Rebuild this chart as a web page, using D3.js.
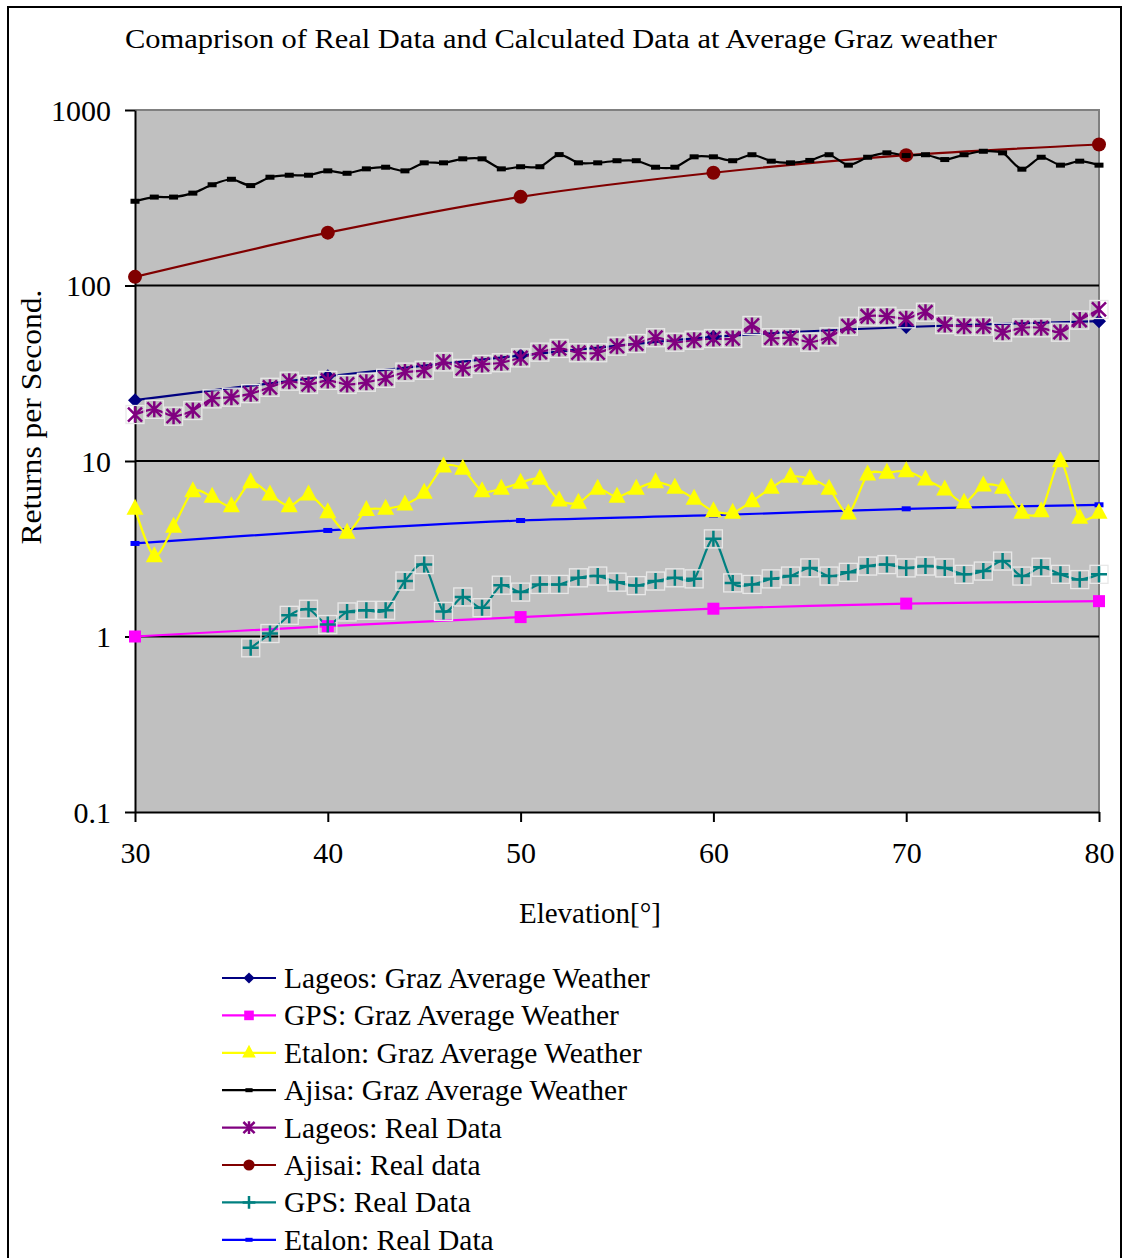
<!DOCTYPE html>
<html>
<head>
<meta charset="utf-8">
<script src="https://cdn.jsdelivr.net/npm/d3@7"></script>
<style>
  html, body { margin: 0; padding: 0; background: #fff; }
  svg { display: block; }
  text { font-family: "Liberation Serif", "Times New Roman", serif; fill: #000; }
</style>
</head>
<body>
<svg id="chart" width="1125" height="1258"></svg>
<script>
// Elevation grid (degrees)
const elevAll = d3.range(30, 81);            // 30..80 every degree
const elevTen = [30, 40, 50, 60, 70, 80];    // model points every 10 degrees
const elevGps = d3.range(36, 81);            // GPS real data starts at 36

// Returns per second
const lageosAvg = [22.2, 30.4, 39.9, 51.0, 58.0, 62.6];
const gpsAvg    = [1.0, 1.145, 1.29, 1.44, 1.54, 1.59];
const etalonAvg = [5.34, 2.87, 4.22, 6.73, 6.25, 5.53, 7.57, 6.44, 5.53, 6.44,
                   5.11, 3.90, 5.25, 5.34, 5.65, 6.59, 9.30, 9.03, 6.73, 6.95,
                   7.51, 7.92, 5.96, 5.78, 6.95, 6.25, 6.95, 7.57, 7.03, 6.09,
                   5.18, 5.07, 5.90, 7.03, 8.13, 7.92, 6.95, 5.02, 8.38, 8.57,
                   8.75, 7.85, 6.88, 5.78, 7.25, 7.03, 5.07, 5.18, 9.97, 4.75, 5.07];
const ajisaAvg  = [302, 319, 319, 336, 375, 403, 371, 414, 425, 425,
                   450, 436, 462, 472, 450, 500, 500, 527, 527, 462,
                   475, 475, 557, 500, 500, 514, 514, 472, 472, 541,
                   541, 514, 556, 511, 500, 516, 556, 485, 538, 570,
                   550, 556, 522, 556, 582, 570, 460, 538, 485, 511, 485];
const lageosReal = [18.4, 19.7, 18.0, 19.4, 22.6, 23.1, 24.2, 26.3, 28.5, 27.3,
                    28.8, 27.3, 28.1, 29.6, 32.1, 32.9, 36.7, 33.7, 35.5, 36.3,
                    38.7, 41.7, 43.8, 41.4, 41.4, 45.1, 46.7, 50.4, 47.5, 48.8,
                    49.9, 49.9, 59.2, 50.4, 50.4, 47.5, 51.0, 58.6, 66.8, 66.8,
                    64.6, 70.4, 59.9, 58.6, 58.6, 54.2, 57.4, 57.4, 54.2, 63.5, 73.0];
const ajisaiReal = [112, 200, 320, 439, 553, 636];
const gpsReal    = [0.862, 1.04, 1.32, 1.43, 1.17, 1.38, 1.41, 1.41, 2.07, 2.57,
                    1.39, 1.68, 1.46, 1.96, 1.79, 1.98, 1.98, 2.16, 2.21, 2.04,
                    1.95, 2.07, 2.16, 2.13, 3.60, 2.02, 1.98, 2.13, 2.21, 2.46,
                    2.21, 2.32, 2.52, 2.57, 2.46, 2.52, 2.46, 2.26, 2.36, 2.69,
                    2.21, 2.48, 2.26, 2.11, 2.26];
const etalonReal = [3.39, 4.02, 4.58, 4.91, 5.34, 5.63];

const xTicks = [30, 40, 50, 60, 70, 80];
const yTicks = [0.1, 1, 10, 100, 1000];
const yTickLabels = ["0.1", "1", "10", "100", "1000"];

const titleText = "Comaprison of Real Data and Calculated Data at Average Graz weather";
const xTitle = "Elevation[°]";
const yTitle = "Returns per Second.";

// Series definitions (legend order)
const series = [
  { name: "Lageos: Graz Average Weather", x: elevTen, y: lageosAvg,  color: "#000080", marker: "diamond" },
  { name: "GPS: Graz Average Weather",    x: elevTen, y: gpsAvg,     color: "#FF00FF", marker: "square" },
  { name: "Etalon: Graz Average Weather", x: elevAll, y: etalonAvg,  color: "#FFFF00", marker: "triangle" },
  { name: "Ajisa: Graz Average Weather",  x: elevAll, y: ajisaAvg,   color: "#000000", marker: "dash" },
  { name: "Lageos: Real Data",            x: elevAll, y: lageosReal, color: "#800080", marker: "star" },
  { name: "Ajisai: Real data",            x: elevTen, y: ajisaiReal, color: "#800000", marker: "circle" },
  { name: "GPS: Real Data",               x: elevGps, y: gpsReal,    color: "#008080", marker: "plus" },
  { name: "Etalon: Real Data",            x: elevTen, y: etalonReal, color: "#0000FF", marker: "dash" }
];
// drawing order inside the plot
const drawOrder = [7, 1, 6, 0, 4, 5, 3, 2];

const svg = d3.select("#chart");

// outer chart frame
svg.append("rect")
  .attr("x", 8).attr("y", 7).attr("width", 1113).attr("height", 1270)
  .attr("fill", "none").attr("stroke", "#000").attr("stroke-width", 2);

const plot = { left: 135, right: 1099, top: 110, bottom: 812 };
const x = d3.scaleLinear().domain([30, 80]).range([plot.left, plot.right]);
const y = d3.scaleLog().domain([0.1, 1000]).range([plot.bottom, plot.top]);

// plot background
svg.append("rect")
  .attr("x", plot.left).attr("y", plot.top)
  .attr("width", plot.right - plot.left).attr("height", plot.bottom - plot.top)
  .attr("fill", "#C0C0C0");

// top and right border of plot area
svg.append("path")
  .attr("d", `M${plot.left},${plot.top}H${plot.right}V${plot.bottom}`)
  .attr("fill", "none").attr("stroke", "#808080").attr("stroke-width", 2);

// major gridlines
svg.append("g").selectAll("line")
  .data([1, 10, 100])
  .join("line")
  .attr("x1", plot.left).attr("x2", plot.right)
  .attr("y1", d => y(d)).attr("y2", d => y(d))
  .attr("stroke", "#000").attr("stroke-width", 2);

// axes
const yAxis = d3.axisLeft(y).tickValues(yTicks)
  .tickFormat((d, i) => yTickLabels[i]).tickSize(10).tickSizeOuter(0);
const gy = svg.append("g").attr("transform", `translate(${plot.left},0)`).call(yAxis);
gy.select(".domain").attr("stroke", "#000").attr("stroke-width", 2);
gy.selectAll(".tick line").attr("stroke", "#000").attr("stroke-width", 2);
gy.selectAll(".tick text")
  .attr("x", -24).attr("dy", "0.34em")
  .style("font-family", "'Liberation Serif', 'Times New Roman', serif")
  .style("font-size", "30px").attr("fill", "#000");

const xAxis = d3.axisBottom(x).tickValues(xTicks).tickFormat(d3.format("d"))
  .tickSize(10).tickSizeOuter(0);
const gx = svg.append("g").attr("transform", `translate(0,${plot.bottom})`).call(xAxis);
gx.select(".domain").attr("stroke", "#000").attr("stroke-width", 2);
gx.selectAll(".tick line").attr("stroke", "#000").attr("stroke-width", 2);
gx.selectAll(".tick text")
  .attr("y", 30)
  .style("font-family", "'Liberation Serif', 'Times New Roman', serif")
  .style("font-size", "30px").attr("fill", "#000");

// titles
svg.append("text")
  .attr("x", 561).attr("y", 48).attr("text-anchor", "middle")
  .attr("textLength", 872).attr("lengthAdjust", "spacingAndGlyphs")
  .style("font-size", "28px").text(titleText);

svg.append("text")
  .attr("x", 590).attr("y", 923).attr("text-anchor", "middle")
  .style("font-size", "29px").text(xTitle);

svg.append("text")
  .attr("transform", "translate(41,417) rotate(-90)")
  .attr("text-anchor", "middle")
  .attr("textLength", 255).attr("lengthAdjust", "spacingAndGlyphs")
  .style("font-size", "30px").text(yTitle);

// marker drawing
function drawMarker(g, type, color, cx, cy, scale) {
  const s = scale || 1;
  const m = g.append("g").attr("transform", `translate(${cx},${cy})`);
  switch (type) {
    case "diamond":
      m.append("path").attr("d", `M0,${-7*s}L${7*s},0L0,${7*s}L${-7*s},0Z`).attr("fill", color);
      break;
    case "square":
      m.append("rect").attr("x", -6*s).attr("y", -6*s).attr("width", 12*s).attr("height", 12*s).attr("fill", color);
      break;
    case "triangle":
      m.append("path").attr("d", `M0,${-10*s}L${8.5*s},${6*s}L${-8.5*s},${6*s}Z`).attr("fill", color);
      break;
    case "dash":
      m.append("rect").attr("x", -4.5*s).attr("y", -2.5*s).attr("width", 9*s).attr("height", 5*s).attr("fill", color);
      break;
    case "circle":
      m.append("circle").attr("r", 7*s).attr("fill", color);
      break;
    case "star":
      if (s === 1) {
        m.append("rect").attr("x", -9).attr("y", -9).attr("width", 18).attr("height", 18)
          .attr("fill", "none").attr("stroke", "#E8E8E8").attr("stroke-width", 1.3);
      }
      m.append("path")
        .attr("d", `M0,${-8*s}V${8*s}M${-7*s},${-7*s}L${7*s},${7*s}M${7*s},${-7*s}L${-7*s},${7*s}`)
        .attr("stroke", color).attr("stroke-width", 2.5).attr("fill", "none");
      break;
    case "plus":
      if (s === 1) {
        m.append("rect").attr("x", -9).attr("y", -9).attr("width", 18).attr("height", 18)
          .attr("fill", "none").attr("stroke", "#E8E8E8").attr("stroke-width", 1.3);
      }
      m.append("path")
        .attr("d", `M0,${-8*s}V${8*s}M${-8*s},0H${8*s}`)
        .attr("stroke", color).attr("stroke-width", 2.5).attr("fill", "none");
      break;
  }
}

const line = d3.line().curve(d3.curveCardinal.tension(0.2));

const linesG = svg.append("g");
const markersG = svg.append("g");
drawOrder.forEach(i => {
  const s = series[i];
  const pts = s.x.map((e, k) => [x(e), y(s.y[k])]);
  linesG.append("path")
    .attr("d", line(pts))
    .attr("fill", "none").attr("stroke", s.color).attr("stroke-width", 2.2);
  pts.forEach(p => drawMarker(markersG, s.marker, s.color, p[0], p[1], 1));
});

// legend
const legend = svg.append("g");
series.forEach((s, i) => {
  const cy = 978 + i * 37.4;
  legend.append("line")
    .attr("x1", 222).attr("x2", 276).attr("y1", cy).attr("y2", cy)
    .attr("stroke", s.color).attr("stroke-width", 2.2);
  drawMarker(legend, s.marker, s.color, 249, cy, 0.8);
  legend.append("text")
    .attr("x", 284).attr("y", cy + 10)
    .style("font-size", "29.5px").text(s.name);
});
</script>
</body>
</html>
